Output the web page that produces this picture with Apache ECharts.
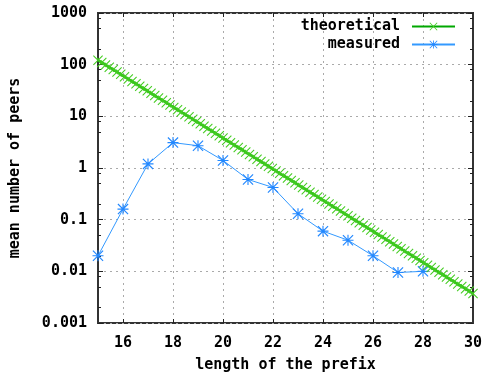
<!DOCTYPE html>
<html>
<head>
<meta charset="utf-8">
<script src="https://cdn.jsdelivr.net/npm/echarts@6/dist/echarts.min.js"></script>
<style>
  html, body { margin: 0; padding: 0; background: #fff; }
  #chart { width: 487px; height: 374px; }
</style>
</head>
<body>
<div id="chart"></div>
<script>
// theoretical curve, sampled like gnuplot (100 samples over 15..30)
const theoX = [
  15.00, 15.15, 15.30, 15.45, 15.61, 15.76, 15.91, 16.06, 16.21, 16.36,
  16.52, 16.67, 16.82, 16.97, 17.12, 17.27, 17.42, 17.58, 17.73, 17.88,
  18.03, 18.18, 18.33, 18.48, 18.64, 18.79, 18.94, 19.09, 19.24, 19.39,
  19.55, 19.70, 19.85, 20.00, 20.15, 20.30, 20.45, 20.61, 20.76, 20.91,
  21.06, 21.21, 21.36, 21.52, 21.67, 21.82, 21.97, 22.12, 22.27, 22.42,
  22.58, 22.73, 22.88, 23.03, 23.18, 23.33, 23.48, 23.64, 23.79, 23.94,
  24.09, 24.24, 24.39, 24.55, 24.70, 24.85, 25.00, 25.15, 25.30, 25.45,
  25.61, 25.76, 25.91, 26.06, 26.21, 26.36, 26.52, 26.67, 26.82, 26.97,
  27.12, 27.27, 27.42, 27.58, 27.73, 27.88, 28.03, 28.18, 28.33, 28.48,
  28.64, 28.79, 28.94, 29.09, 29.24, 29.39, 29.55, 29.70, 29.85, 30.00
];
const theoY = [
  122.0, 109.8, 98.9, 89.0, 80.2, 72.2, 65.0, 58.5, 52.7, 47.4,
  42.7, 38.4, 34.6, 31.1, 28.0, 25.2, 22.7, 20.5, 18.4, 16.6,
  14.9, 13.4, 12.1, 10.9, 9.81, 8.83, 7.95, 7.16, 6.45, 5.80,
  5.22, 4.70, 4.23, 3.81, 3.43, 3.09, 2.78, 2.50, 2.26, 2.03,
  1.83, 1.65, 1.48, 1.33, 1.20, 1.08, 0.973, 0.876, 0.789, 0.710,
  0.639, 0.576, 0.518, 0.467, 0.420, 0.378, 0.341, 0.307, 0.276, 0.249,
  0.224, 0.201, 0.181, 0.163, 0.147, 0.132, 0.119, 0.107, 0.0966, 0.0869,
  0.0783, 0.0705, 0.0634, 0.0571, 0.0514, 0.0463, 0.0417, 0.0375, 0.0338, 0.0304,
  0.0274, 0.0247, 0.0222, 0.0200, 0.0180, 0.0162, 0.0146, 0.0131, 0.0118, 0.0106,
  0.00958, 0.00863, 0.00777, 0.00699, 0.00629, 0.00567, 0.00510, 0.00459, 0.00414, 0.00372
];

// measured values
const measX = [15, 16, 17, 18, 19, 20, 21, 22, 23, 24, 25, 26, 27, 28];
const measY = [0.02, 0.16, 1.2, 3.1, 2.7, 1.4, 0.6, 0.42, 0.13, 0.06, 0.04, 0.02, 0.0095, 0.01];

const xTicks = [16, 18, 20, 22, 24, 26, 28];
const xLabels = [16, 18, 20, 22, 24, 26, 28, 30];
const yLabels = ['0.001', '0.01', '0.1', '1', '10', '100', '1000'];
const yMinor = [
  0.002, 0.005, 0.008, 0.02, 0.05, 0.08, 0.2, 0.5, 0.8,
  2, 5, 8, 20, 50, 80, 200, 500, 800
];

const FONT = '"DejaVu Sans Mono", monospace';
const crossPath = 'path://M0,1.5L1.5,0L20,18.5L18.5,20Z M18.5,0L20,1.5L1.5,20L0,18.5Z';
const starPath = 'path://M0,9L20,9L20,11L0,11Z M9,0L11,0L11,20L9,20Z ' +
  'M0,1.5L1.5,0L20,18.5L18.5,20Z M18.5,0L20,1.5L1.5,20L0,18.5Z';

const chart = echarts.init(document.getElementById('chart'));

const tickOnly = (pos, values, len) => ({
  type: 'log',
  logBase: 10,
  min: 0.001,
  max: 1000,
  position: pos,
  axisLine: { show: false },
  axisLabel: { show: false },
  splitLine: { show: false },
  axisTick: {
    show: true,
    inside: true,
    length: len,
    customValues: values,
    lineStyle: { color: '#222', width: 1 }
  }
});

const option = {
  animation: false,
  grid: {
    left: 98,
    right: 14,
    top: 13,
    bottom: 51,
    outerBoundsMode: 'none',
    show: true,
    borderColor: '#333',
    borderWidth: 2
  },
  legend: {
    orient: 'vertical',
    right: 26,
    top: 14,
    align: 'right',
    itemWidth: 43,
    itemHeight: 10,
    itemGap: 3,
    data: ['theoretical', 'measured'],
    textStyle: {
      fontFamily: FONT,
      fontWeight: 'bold',
      fontSize: 15,
      color: '#000',
      padding: [0, 7, 0, 0]
    }
  },
  xAxis: [
    {
      type: 'value',
      min: 15,
      max: 30,
      position: 'bottom',
      name: 'length of the prefix',
      nameLocation: 'middle',
      nameGap: 35,
      nameTextStyle: { fontFamily: FONT, fontWeight: 'bold', fontSize: 15, color: '#000' },
      axisLine: { show: false },
      axisTick: {
        inside: true,
        length: 4,
        customValues: xTicks,
        lineStyle: { color: '#222' }
      },
      axisLabel: {
        customValues: xLabels,
        margin: 13,
        fontFamily: FONT,
        fontWeight: 'bold',
        fontSize: 15,
        color: '#000'
      },
      splitLine: {
        show: true,
        lineStyle: { color: '#aaa', width: 1, type: [2, 4] }
      }
    },
    {
      type: 'value',
      min: 15,
      max: 30,
      position: 'top',
      axisLine: { show: false },
      axisLabel: { show: false },
      splitLine: { show: false },
      axisTick: {
        inside: true,
        length: 4,
        customValues: xTicks,
        lineStyle: { color: '#222' }
      }
    }
  ],
  yAxis: [
    {
      type: 'log',
      logBase: 10,
      min: 0.001,
      max: 1000,
      interval: 1,
      position: 'left',
      name: 'mean number of peers',
      nameLocation: 'middle',
      nameGap: 75,
      nameTextStyle: { fontFamily: FONT, fontWeight: 'bold', fontSize: 15, color: '#000' },
      axisLine: { show: false },
      axisTick: { inside: true, length: 5, lineStyle: { color: '#222' } },
      axisLabel: {
        margin: 11,
        fontFamily: FONT,
        fontWeight: 'bold',
        fontSize: 15,
        color: '#000',
        formatter: v => yLabels[Math.round(Math.log10(v)) + 3]
      },
      splitLine: {
        show: true,
        lineStyle: { color: '#aaa', width: 1, type: [2, 4] }
      }
    },
    tickOnly('left', yMinor, 3),
    tickOnly('right', [0.001, 0.01, 0.1, 1, 10, 100, 1000], 5),
    tickOnly('right', yMinor, 3)
  ],
  series: [
    {
      name: 'theoretical',
      type: 'line',
      xAxisIndex: 0,
      yAxisIndex: 0,
      data: theoX.map((x, i) => [x, theoY[i]]),
      symbol: crossPath,
      symbolSize: 10,
      lineStyle: { color: '#00a800', width: 2.5 },
      itemStyle: { color: '#44cc22' },
      z: 3
    },
    {
      name: 'measured',
      type: 'line',
      xAxisIndex: 0,
      yAxisIndex: 0,
      data: measX.map((x, i) => [x, measY[i]]),
      symbol: starPath,
      symbolSize: 11,
      lineStyle: { color: '#3399ff', width: 1 },
      itemStyle: { color: '#2288ff' },
      z: 2
    }
  ]
};

chart.setOption(option);
</script>
</body>
</html>
